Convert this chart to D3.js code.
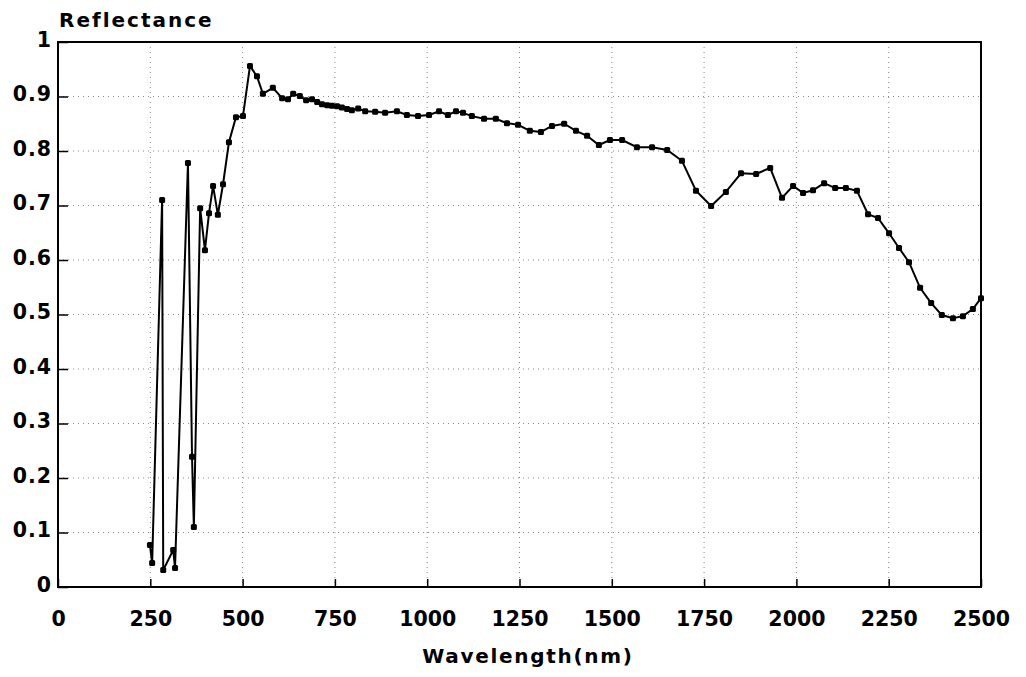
<!DOCTYPE html>
<meta charset="utf-8">
<style>
body { margin: 0; background: #fff; }
text { font-family: "DejaVu Sans", sans-serif; font-weight: bold; fill: #000; }
.grid line { stroke: #888; stroke-width: 1; stroke-dasharray: 1 4; }
</style>
<svg width="1026" height="677"></svg>
<script src="https://d3js.org/d3.v7.min.js"></script>
<script>
var wavelength = [249, 255, 282, 285, 312, 317, 352, 363, 368, 385,
  398, 409, 420, 433, 447, 463, 482, 501, 520, 539,
  555, 582, 607, 623, 637, 655, 672, 688, 702, 715,
  729, 742, 756, 769, 783, 796, 813, 832, 859, 886,
  918, 945, 975, 1005, 1032, 1056, 1078, 1097, 1121, 1154,
  1186, 1216, 1246, 1278, 1308, 1338, 1371, 1403, 1433, 1465,
  1495, 1528, 1568, 1609, 1650, 1690, 1728, 1769, 1809, 1850,
  1891, 1929, 1961, 1991, 2018, 2045, 2075, 2105, 2134, 2164,
  2194, 2221, 2251, 2278, 2305, 2335, 2365, 2394, 2424, 2451,
  2478, 2500];
var reflectance = [0.077, 0.044, 0.71, 0.031, 0.068, 0.035, 0.778, 0.239, 0.11, 0.695,
  0.618, 0.686, 0.736, 0.683, 0.739, 0.816, 0.862, 0.864, 0.956, 0.937,
  0.905, 0.916, 0.897, 0.895, 0.905, 0.901, 0.893, 0.895, 0.89, 0.886,
  0.884, 0.883, 0.882, 0.88, 0.877, 0.875, 0.878, 0.873, 0.872, 0.87,
  0.873, 0.866, 0.864, 0.866, 0.873, 0.866, 0.873, 0.870, 0.864, 0.859,
  0.859, 0.851, 0.848, 0.837, 0.835, 0.846, 0.850, 0.837, 0.828, 0.811,
  0.820, 0.820, 0.807, 0.807, 0.802, 0.782, 0.727, 0.699, 0.725, 0.759,
  0.758, 0.769, 0.714, 0.736, 0.723, 0.728, 0.741, 0.732, 0.732, 0.727,
  0.684, 0.677, 0.649, 0.622, 0.596, 0.549, 0.521, 0.499, 0.493, 0.497,
  0.510, 0.530];
var xTicks = [0, 250, 500, 750, 1000, 1250, 1500, 1750, 2000, 2250, 2500];
var yTicks = [0, 0.1, 0.2, 0.3, 0.4, 0.5, 0.6, 0.7, 0.8, 0.9, 1];

var svg = d3.select("svg");
var x = d3.scaleLinear().domain([0, 2500]).range([58, 981]);
var y = d3.scaleLinear().domain([0, 1]).range([587, 42]);

var data = wavelength.map(function(w, i) { return {w: w, r: reflectance[i]}; });

// dotted grid
var grid = svg.append("g").attr("class", "grid");
grid.selectAll(".gx").data(xTicks.slice(1, -1)).enter().append("line")
    .attr("x1", function(d) { return x(d); }).attr("x2", function(d) { return x(d); })
    .attr("y1", y(1)).attr("y2", y(0));
grid.selectAll(".gy").data(yTicks.slice(1, -1)).enter().append("line")
    .attr("x1", x(0)).attr("x2", x(2500))
    .attr("y1", function(d) { return y(d); }).attr("y2", function(d) { return y(d); });

// frame
svg.append("rect")
    .attr("x", x(0)).attr("y", y(1))
    .attr("width", x(2500) - x(0)).attr("height", y(0) - y(1))
    .attr("fill", "none").attr("stroke", "#000").attr("stroke-width", 2);

// axes with inward ticks
var xAxis = d3.axisBottom(x).tickValues(xTicks).tickSize(-8)
    .tickFormat(d3.format("d"));
var gx = svg.append("g").attr("transform", "translate(0," + y(0) + ")").call(xAxis);
gx.select(".domain").remove();
gx.selectAll(".tick line").attr("stroke", "#000").attr("stroke-width", 1.5);
gx.selectAll(".tick text").attr("font-size", 20.5).attr("dy", 0).attr("y", 39);

var yAxis = d3.axisLeft(y).tickValues(yTicks).tickSize(-10)
    .tickFormat(function(d) { return d === 0 || d === 1 ? String(d) : d3.format(".1f")(d); });
var gy = svg.append("g").attr("transform", "translate(" + x(0) + ",0)").call(yAxis);
gy.select(".domain").remove();
gy.selectAll(".tick line").attr("stroke", "#000").attr("stroke-width", 1.5);
gy.selectAll(".tick text").attr("font-size", 20.5).attr("letter-spacing", 1)
    .attr("x", -6).attr("dy", "0.2em");

// series
svg.append("path").datum(data)
    .attr("fill", "none").attr("stroke", "#000").attr("stroke-width", 2)
    .attr("d", d3.line().x(function(d) { return x(d.w); }).y(function(d) { return y(d.r); }));
svg.append("g").selectAll("rect").data(data).enter().append("rect")
    .attr("x", function(d) { return x(d.w) - 3; })
    .attr("y", function(d) { return y(d.r) - 3; })
    .attr("width", 6).attr("height", 6).attr("rx", 1.5).attr("fill", "#000");

// titles
svg.append("text").attr("x", 59).attr("y", 27)
    .attr("font-size", 20).attr("letter-spacing", 2).text("Reflectance");
svg.append("text").attr("x", 528).attr("y", 663)
    .attr("text-anchor", "middle").attr("font-size", 20).attr("letter-spacing", 1.7)
    .text("Wavelength(nm)");
</script>
